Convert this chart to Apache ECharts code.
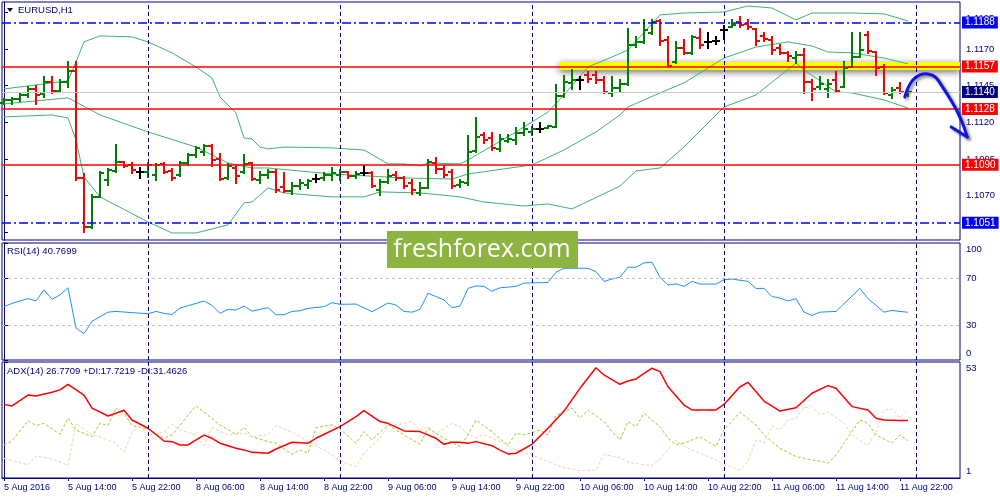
<!DOCTYPE html>
<html><head><meta charset="utf-8">
<script src="https://cdn.jsdelivr.net/npm/echarts@6/dist/echarts.min.js"></script>
<style>html,body{margin:0;padding:0;background:#fff}#c{width:1000px;height:500px}</style>
</head><body><div id="c"></div><script>
// ---------- DATA ----------
const tickIndex = [0,8,16,24,32,40,48,56,64,72,80,88,96,104,112];
const tickLabels = ["5 Aug 2016","5 Aug 14:00","5 Aug 22:00","8 Aug 06:00","8 Aug 14:00","8 Aug 22:00","9 Aug 06:00","9 Aug 14:00","9 Aug 22:00","10 Aug 06:00","10 Aug 14:00","10 Aug 22:00","11 Aug 06:00","11 Aug 14:00","11 Aug 22:00"];
const daySeparators = [18,42,66,90,114];
const priceTicks = [1.1045,1.1070,1.1095,1.1120,1.1145,1.1170,1.1195];

const opens = [1.11332,1.11352,1.11359,1.11386,1.11427,1.11393,1.11475,1.11413,1.11475,1.11550,
1.10820,1.10486,1.10691,1.10806,1.10868,1.10929,1.10909,1.10861,1.10861,1.10841,
1.10916,1.10868,1.10841,1.10922,1.10977,1.10998,1.11038,1.10950,1.10820,1.10888,
1.10861,1.10922,1.10806,1.10841,1.10861,1.10759,1.10731,1.10765,1.10772,1.10813,
1.10820,1.10841,1.10841,1.10861,1.10834,1.10854,1.10854,1.10738,1.10793,1.10841,
1.10820,1.10786,1.10718,1.10752,1.10922,1.10882,1.10861,1.10772,1.10786,1.11004,
1.11113,1.11093,1.11018,1.11072,1.11079,1.11127,1.11134,1.11154,1.11161,1.11168,
1.11379,1.11468,1.11488,1.11523,1.11523,1.11488,1.11400,1.11434,1.11461,1.11727,
1.11748,1.11809,1.11891,1.11761,1.11611,1.11707,1.11673,1.11775,1.11748,1.11754,
1.11829,1.11850,1.11884,1.11870,1.11836,1.11789,1.11761,1.11707,1.11673,1.11638,
1.11659,1.11475,1.11441,1.11427,1.11488,1.11441,1.11577,1.11645,1.11795,1.11679,
1.11577,1.11386,1.11434,1.11386];
const highs = [1.11359,1.11366,1.11400,1.11441,1.11447,1.11509,1.11509,1.11488,1.11611,1.11611,
1.10847,1.10704,1.10861,1.10882,1.11045,1.10929,1.10922,1.10888,1.10922,1.10916,
1.10922,1.10882,1.10929,1.10984,1.11031,1.11045,1.11045,1.10984,1.10916,1.10902,
1.10977,1.10922,1.10861,1.10875,1.10875,1.10854,1.10786,1.10806,1.10806,1.10841,
1.10854,1.10888,1.10875,1.10861,1.10861,1.10902,1.10861,1.10806,1.10875,1.10861,
1.10827,1.10806,1.10786,1.10943,1.10956,1.10902,1.10875,1.10806,1.11106,1.11229,
1.11127,1.11127,1.11113,1.11113,1.11161,1.11195,1.11168,1.11195,1.11175,1.11454,
1.11516,1.11557,1.11509,1.11543,1.11543,1.11509,1.11509,1.11488,1.11836,1.11782,
1.11898,1.11898,1.11898,1.11782,1.11748,1.11761,1.11789,1.11836,1.11809,1.11782,
1.11857,1.11898,1.11918,1.11898,1.11836,1.11809,1.11782,1.11727,1.11679,1.11679,
1.11700,1.11488,1.11509,1.11488,1.11543,1.11611,1.11809,1.11809,1.11816,1.11679,
1.11591,1.11434,1.11468,1.11413];
const lows = [1.11325,1.11325,1.11345,1.11372,1.11325,1.11372,1.11400,1.11407,1.11441,1.10806,
1.10452,1.10479,1.10691,1.10772,1.10861,1.10895,1.10854,1.10820,1.10827,1.10806,
1.10854,1.10806,1.10834,1.10909,1.10963,1.10977,1.10902,1.10806,1.10813,1.10786,
1.10854,1.10806,1.10786,1.10820,1.10725,1.10725,1.10711,1.10745,1.10752,1.10793,
1.10806,1.10806,1.10806,1.10820,1.10820,1.10841,1.10759,1.10704,1.10786,1.10806,
1.10752,1.10711,1.10704,1.10752,1.10854,1.10827,1.10752,1.10759,1.10772,1.10998,
1.11059,1.11011,1.11004,1.11066,1.11052,1.11113,1.11113,1.11134,1.11161,1.11168,
1.11372,1.11427,1.11427,1.11475,1.11468,1.11400,1.11379,1.11407,1.11454,1.11713,
1.11741,1.11802,1.11727,1.11584,1.11604,1.11666,1.11666,1.11707,1.11707,1.11734,
1.11768,1.11850,1.11850,1.11836,1.11727,1.11754,1.11666,1.11666,1.11618,1.11604,
1.11400,1.11352,1.11427,1.11372,1.11407,1.11441,1.11577,1.11645,1.11673,1.11523,
1.11393,1.11366,1.11400,1.11379];
const closes = [1.11352,1.11359,1.11386,1.11427,1.11386,1.11475,1.11413,1.11475,1.11550,1.10820,
1.10486,1.10691,1.10854,1.10875,1.10929,1.10902,1.10875,1.10861,1.10909,1.10909,
1.10861,1.10820,1.10922,1.10977,1.11025,1.11038,1.10943,1.10813,1.10902,1.10834,
1.10916,1.10813,1.10841,1.10861,1.10738,1.10731,1.10765,1.10786,1.10800,1.10813,
1.10841,1.10854,1.10861,1.10834,1.10847,1.10854,1.10765,1.10793,1.10834,1.10820,
1.10765,1.10738,1.10752,1.10929,1.10882,1.10841,1.10765,1.10793,1.10998,1.11100,
1.11079,1.11025,1.11086,1.11086,1.11127,1.11154,1.11154,1.11154,1.11175,1.11379,
1.11475,1.11488,1.11488,1.11495,1.11488,1.11407,1.11434,1.11461,1.11727,1.11748,
1.11829,1.11884,1.11754,1.11584,1.11707,1.11673,1.11782,1.11727,1.11748,1.11754,
1.11829,1.11864,1.11864,1.11850,1.11754,1.11768,1.11693,1.11673,1.11652,1.11659,
1.11475,1.11427,1.11461,1.11461,1.11413,1.11570,1.11645,1.11693,1.11686,1.11570,
1.11400,1.11420,1.11407,1.11407];

// Bollinger bands: [bar index, value] read at the bends of each line
const bbUpper = [[0,1.11427],[8,1.11482],[9,1.11611],[10,1.11748],[12,1.11789],[16,1.11782],[18,1.11748],[21,1.11673],[24,1.11577],[26,1.11502],[27,1.11372],[29,1.11263],[30,1.11093],[31,1.11086],[32,1.11031],[33,1.11018],[35,1.11031],[41,1.11025],[45,1.11011],[48,1.10916],[50,1.10916],[52,1.10902],[53,1.10922],[57,1.10916],[58,1.10943],[64,1.11134],[68,1.11270],[70,1.11386],[73,1.11577],[76,1.11645],[78,1.11693],[82,1.11932],[85,1.11945],[90,1.11952],[93,1.11993],[96,1.11979],[99,1.11898],[101,1.11945],[103,1.11945],[106,1.11945],[110,1.11939],[113,1.11891]];
const bbMiddle = [[0,1.11325],[8,1.11366],[9,1.11338],[12,1.11250],[18,1.11134],[24,1.11031],[28,1.10922],[31,1.10888],[33,1.10888],[41,1.10847],[50,1.10820],[56,1.10813],[58,1.10847],[66,1.10909],[70,1.11011],[74,1.11134],[77,1.11250],[78,1.11304],[82,1.11400],[85,1.11468],[90,1.11638],[94,1.11713],[98,1.11748],[101,1.11720],[103,1.11679],[106,1.11673],[110,1.11638],[113,1.11598]];
const bbLower = [[0,1.11236],[6,1.11250],[8,1.11229],[9,1.11079],[10,1.10827],[12,1.10691],[18,1.10520],[21,1.10445],[24,1.10445],[28,1.10500],[30,1.10650],[31,1.10656],[33,1.10752],[35,1.10718],[41,1.10691],[45,1.10691],[47,1.10725],[52,1.10718],[57,1.10691],[60,1.10656],[65,1.10629],[68,1.10643],[71,1.10609],[77,1.10765],[79,1.10868],[82,1.10888],[85,1.11031],[90,1.11304],[94,1.11386],[99,1.11604],[100,1.11557],[104,1.11407],[106,1.11400],[110,1.11352],[113,1.11297]];

const rsi = [[0,45.6],[1,48.4],[3,52.5],[4,50.5],[5,60],[6,51.9],[7,55.6],[8,61.7],[9,27.4],[10,22.5],[11,33.1],[13,40.9],[14,41.5],[18,39.5],[19,41.5],[20,39.8],[21,38.9],[22,44.4],[25,50.4],[26,46.7],[27,39.8],[28,43.3],[29,42.7],[30,46.1],[31,41.8],[33,44.7],[34,38.7],[35,38.7],[36,41.5],[37,42.1],[38,44.1],[40,45.6],[41,49],[42,47.6],[44,47.8],[46,41.3],[48,48.7],[49,47],[50,41.5],[51,40.9],[52,43.3],[53,57.1],[55,51.3],[56,44.7],[57,46.1],[58,61.2],[59,63.4],[60,62.9],[61,58.8],[62,61.7],[64,62.9],[65,65.7],[68,66.3],[69,75],[70,78.4],[73,78.4],[74,75.5],[75,67.2],[76,69.2],[77,70.7],[78,79.3],[79,79.3],[80,83],[81,83.6],[82,70.7],[83,64],[84,65.1],[85,62.9],[86,67.2],[87,64.9],[89,64.9],[90,68.6],[91,69.2],[93,67.2],[94,61.2],[95,61.2],[96,54.2],[97,53],[98,50.4],[99,52.5],[100,40.9],[101,38.1],[102,40.9],[104,41.5],[107,61.2],[108,52.5],[110,40.9],[111,42.4],[112,41.5],[113,40.8]];
const rsiLevels = [30, 70];

const adx = [[0,34.0],[1,33.3],[3,38.2],[4,37.8],[6,39.4],[7,40.5],[8,43.0],[10,38.2],[11,32.3],[13,28.8],[14,30.0],[15,31.4],[16,27.0],[18,23.3],[20,17.6],[21,17.3],[22,15.8],[23,15.8],[25,20.2],[26,18.8],[27,16.6],[29,14.3],[30,13.6],[31,12.5],[33,12.1],[34,14.0],[36,17.0],[38,16.6],[39,18.8],[42,24.0],[44,28.5],[45,31.2],[47,26.3],[48,25.5],[50,22.1],[52,21.8],[54,18.8],[55,16.1],[56,17.0],[57,17.0],[58,16.6],[59,17.3],[61,15.5],[62,13.5],[63,11.8],[64,12.1],[66,16.1],[68,23.3],[70,31.0],[72,41.2],[74,50.4],[75,47.2],[77,43.0],[78,44.5],[79,45.4],[81,50.2],[82,48.7],[83,41.9],[85,33.7],[86,31.5],[89,31.5],[90,34.0],[92,41.9],[93,43.9],[95,35.5],[97,31.0],[99,32.5],[101,39.0],[103,42.4],[104,41.2],[106,33.0],[108,31.5],[109,27.8],[110,27.0],[112,26.8],[113,26.8]];
const plusDI = [[0,15.8],[1,17.6],[3,26.7],[4,24.5],[5,25.5],[7,20.6],[8,27.8],[9,22.5],[11,19.5],[12,25.5],[13,24.5],[14,32.3],[15,30.0],[16,24.5],[18,23.0],[20,18.8],[21,20.3],[24,33.4],[27,24.8],[29,20.6],[30,23.6],[31,19.5],[33,17.3],[34,16.6],[36,11.6],[37,13.6],[38,12.1],[39,23.6],[41,24.8],[42,23.0],[44,16.6],[45,21.8],[46,18.1],[48,24.8],[50,20.3],[52,16.1],[53,23.3],[55,18.8],[57,15.1],[58,20.3],[59,27.0],[61,21.8],[62,18.5],[63,15.8],[64,21.1],[65,20.3],[67,22.5],[68,20.3],[69,29.0],[71,32.3],[72,27.8],[73,31.5],[75,26.3],[76,21.8],[77,18.1],[78,26.3],[79,24.0],[80,30.0],[82,24.0],[83,18.8],[84,16.1],[85,16.6],[87,19.5],[89,15.1],[90,22.5],[92,30.5],[94,24.8],[95,20.3],[97,14.3],[99,10.6],[101,9.1],[102,8.6],[103,7.6],[104,11.3],[105,16.6],[107,27.0],[108,25.5],[109,20.3],[111,16.6],[112,20.3],[113,17.7]];
const minusDI = [[0,9.8],[3,6.9],[4,10.9],[6,9.5],[8,6.6],[9,25.5],[11,20.3],[12,19.5],[14,16.6],[15,12.5],[16,21.5],[17,24.0],[18,20.3],[20,21.5],[21,25.1],[22,22.5],[24,20.3],[25,15.5],[26,23.6],[28,20.3],[30,21.1],[31,19.5],[33,20.3],[34,24.5],[36,21.5],[37,19.5],[38,17.3],[40,13.6],[41,11.3],[42,8.6],[43,7.2],[44,6.1],[45,12.1],[47,18.8],[48,24.0],[50,25.5],[51,26.3],[52,22.5],[53,24.0],[54,21.1],[56,25.5],[57,24.0],[58,20.6],[59,19.1],[60,20.6],[62,17.3],[64,13.6],[66,11.3],[67,9.8],[69,6.9],[70,5.7],[72,4.2],[74,4.6],[75,11.6],[77,10.1],[78,8.1],[80,6.9],[81,6.6],[82,9.5],[84,18.1],[85,15.1],[87,12.1],[89,9.1],[90,6.9],[92,4.6],[93,8.6],[94,18.1],[95,16.6],[96,24.5],[97,22.5],[98,27.0],[99,27.8],[100,32.5],[101,33.0],[102,29.3],[103,30.5],[105,25.5],[106,20.3],[108,15.5],[109,21.5],[110,31.5],[111,31.9],[112,28.0],[113,31.5]];

// horizontal levels
const levelValues = [1.11880, 1.11580, 1.11407, 1.11290, 1.10910, 1.10514];
const levelLabels = ['1.1188', '1.1157', '1.1140', '1.1128', '1.1090', '1.1051'];
const levelKinds  = ['blue', 'red', 'bid', 'red', 'red', 'blue'];
const zoneRange = [1.11557, 1.11611];   // yellow resistance zone
const zoneStart = 69.4;
// hand-drawn forecast arrow (bar index, price)
const arrowPath = [[112.6,1.11372],[113.0,1.11434],[113.6,1.11488],[114.5,1.11523],[115.5,1.11529],[116.4,1.11509],[117.4,1.11434],[118.5,1.11338],[119.25,1.11263],[119.9,1.11181],[120.4,1.11100]];
const arrowBarb = [[118.4,1.11168],[120.4,1.11100]];

const titleMain = 'EURUSD,H1';
const titleRsi = 'RSI(14) 40.7699';
const titleAdx = 'ADX(14) 26.7709 +DI:17.7219 -DI:31.4626';

// ---------- CHART ----------
const FONT = '"Liberation Sans", Arial, sans-serif';
const NAVY = '#000080';
const X_MIN = -0.25, X_MAX = 119.5;
const chart = echarts.init(document.getElementById('c'), null, {renderer: 'canvas'});

function xAxisCfg(gi, show) {
  return {
    type: 'value', gridIndex: gi, min: X_MIN, max: X_MAX,
    axisLine: {show: show, lineStyle: {color: NAVY}},
    axisTick: {show: show, customValues: tickIndex, length: 3, lineStyle: {color: NAVY}},
    axisLabel: {show: show, customValues: tickIndex,
      formatter: v => { const i = tickIndex.indexOf(Math.round(v)); return i >= 0 ? tickLabels[i] : ''; },
      align: 'left', color: NAVY, fontSize: 9, fontFamily: FONT, margin: 5, hideOverlap: false},
    splitLine: {show: false}
  };
}
function yAxisCfg(gi, min, max, ticks, fmt) {
  return {
    type: 'value', gridIndex: gi, position: 'right', min: min, max: max,
    axisLine: {show: true, lineStyle: {color: NAVY}},
    axisTick: {show: true, customValues: ticks, length: 4, lineStyle: {color: NAVY}},
    axisLabel: {customValues: ticks, formatter: fmt, color: NAVY, fontSize: 9.5, fontFamily: FONT, margin: 6, lineHeight: 13,
      verticalAlignMinLabel: 'bottom', verticalAlignMaxLabel: 'top', showMinLabel: true, showMaxLabel: true},
    splitLine: {show: false}
  };
}
const dayLineStyle = {color: NAVY, width: 1, type: [4, 3]};
function dayLines() {
  return daySeparators.map(x => ({xAxis: x, lineStyle: dayLineStyle, label: {show: false}}));
}

const levelStyle = {
  blue: {line: {color: '#0000ff', width: 1.5, type: [9, 3, 2, 3]}, bg: '#0000ff'},
  red:  {line: {color: '#ff0000', width: 1.5, type: 'solid'}, bg: '#ff0000'},
  bid:  {line: {color: '#c8c8c8', width: 1, type: 'solid'}, bg: '#000080'}
};
const levelLines = levelValues.map((v, i) => {
  const s = levelStyle[levelKinds[i]];
  return {yAxis: v, lineStyle: s.line,
    label: {show: true, position: 'end', distance: 2, formatter: levelLabels[i], color: '#fff',
      backgroundColor: s.bg, padding: [1, 3, 1, 3], fontSize: 10, fontFamily: FONT, lineHeight: 10}};
});

function renderOHLC(params, api) {
  const k = api.value(0), o = api.value(1), h = api.value(2), l = api.value(3), c = api.value(4);
  const ph = api.coord([k, h]), pl = api.coord([k, l]), po = api.coord([k, o]), pc = api.coord([k, c]);
  const x = Math.round(ph[0]);
  const col = c > o ? '#008000' : (c < o ? '#ff0000' : '#000000');
  const st = {stroke: col, lineWidth: 2};
  const yo = Math.round(po[1]), yc = Math.round(pc[1]);
  return {type: 'group', children: [
    {type: 'line', shape: {x1: x, y1: Math.round(ph[1]) - 1, x2: x, y2: Math.round(pl[1]) + 1}, style: st},
    {type: 'line', shape: {x1: x - 4, y1: yo, x2: x, y2: yo}, style: st},
    {type: 'line', shape: {x1: x, y1: yc, x2: x + 4, y2: yc}, style: st}
  ]};
}
const ohlcData = opens.map((o, i) => [i, o, highs[i], lows[i], closes[i]]);
const closeLine = closes.map((c, i) => [i, c]);

const bbStyle = {color: '#3cb371', width: 1};
function bbSeries(name, data) {
  return {type: 'line', name: name, xAxisIndex: 0, yAxisIndex: 0, data: data, symbol: 'none',
    lineStyle: bbStyle, z: 2, silent: true};
}

const option = {
  animation: false,
  backgroundColor: '#ffffff',
  grid: [
    {left: 2, top: 2, width: 958, height: 238, show: true, borderColor: NAVY, borderWidth: 1, backgroundColor: 'transparent'},
    {left: 2, top: 243, width: 958, height: 117, show: true, borderColor: NAVY, borderWidth: 1, backgroundColor: 'transparent'},
    {left: 2, top: 362, width: 958, height: 116, show: true, borderColor: NAVY, borderWidth: 1, backgroundColor: 'transparent'}
  ],
  xAxis: [xAxisCfg(0, false), xAxisCfg(1, false), xAxisCfg(2, true)],
  yAxis: [
    yAxisCfg(0, 1.10397, 1.12020, priceTicks, v => v.toFixed(4)),
    yAxisCfg(1, 0, 100, [0, 30, 70, 100], v => String(Math.round(v))),
    yAxisCfg(2, 1, 53, [1, 53], v => String(Math.round(v)))
  ],
  series: [
    {type: 'line', name: 'grid-main', xAxisIndex: 0, yAxisIndex: 0, data: [], z: 1, silent: true,
      markLine: {silent: true, symbol: 'none', animation: false, precision: 6, data: dayLines()},
      markArea: {silent: true, data: [[{xAxis: zoneStart, yAxis: zoneRange[0]}, {xAxis: X_MAX, yAxis: zoneRange[1]}]],
        itemStyle: {color: '#ffff00', shadowBlur: 7, shadowColor: 'rgba(0,0,0,0.6)', shadowOffsetY: 2}}},
    bbSeries('upper', bbUpper), bbSeries('middle', bbMiddle), bbSeries('lower', bbLower),
    {type: 'custom', name: 'EURUSD', xAxisIndex: 0, yAxisIndex: 0, data: ohlcData, renderItem: renderOHLC,
      encode: {x: 0, y: [1, 2, 3, 4]}, z: 3, silent: true},
    {type: 'line', name: 'levels', xAxisIndex: 0, yAxisIndex: 0, data: closeLine, symbol: 'none', z: 4, silent: true,
      lineStyle: {opacity: 0, width: 0},
      markLine: {silent: true, symbol: 'none', animation: false, precision: 6, data: levelLines}},
    {type: 'line', name: 'RSI', xAxisIndex: 1, yAxisIndex: 1, data: rsi, symbol: 'none', z: 3, silent: true,
      lineStyle: {color: '#1e90ff', width: 1},
      markLine: {silent: true, symbol: 'none', animation: false,
        data: rsiLevels.map(v => ({yAxis: v, lineStyle: {color: '#c0c0c0', width: 1, type: [3, 3]}, label: {show: false}})).concat(dayLines())}},
    {type: 'line', name: 'ADX', xAxisIndex: 2, yAxisIndex: 2, data: adx, symbol: 'none', z: 4, silent: true,
      lineStyle: {color: '#ff0000', width: 1.5},
      markLine: {silent: true, symbol: 'none', animation: false, data: dayLines()}},
    {type: 'line', name: '+DI', xAxisIndex: 2, yAxisIndex: 2, data: plusDI, symbol: 'none', z: 3, silent: true,
      lineStyle: {color: '#9acd32', width: 1, type: [3, 2]}},
    {type: 'line', name: '-DI', xAxisIndex: 2, yAxisIndex: 2, data: minusDI, symbol: 'none', z: 3, silent: true,
      lineStyle: {color: '#f2d2a6', width: 1, type: [3, 2]}}
  ],
  graphic: {elements: [
    {id: 'tri', type: 'polygon', shape: {points: [[7, 8], [13, 8], [10, 12]]}, style: {fill: '#000040'}, z: 50},
    {id: 't0', type: 'text', x: 18, y: 10, style: {text: titleMain, fill: NAVY, font: '9.5px ' + FONT, textVerticalAlign: 'middle'}, z: 50},
    {id: 't1', type: 'text', x: 7, y: 251, style: {text: titleRsi, fill: NAVY, font: '9.5px ' + FONT, textVerticalAlign: 'middle'}, z: 50},
    {id: 't2', type: 'text', x: 7, y: 371, style: {text: titleAdx, fill: NAVY, font: '9.5px ' + FONT, textVerticalAlign: 'middle'}, z: 50},
    {id: 'wmbox', type: 'rect', shape: {x: 387, y: 231, width: 191, height: 37}, style: {fill: '#8db340'}, z: 60},
    {id: 'wmtxt', type: 'text', x: 482, y: 250, style: {text: 'freshforex.com', fill: '#ffffff', font: '25px "Open Sans", "Noto Sans", sans-serif',
      textAlign: 'center', textVerticalAlign: 'middle'}, z: 61}
  ]}
};
chart.setOption(option);

// forecast arrow, placed through the chart's own scales (not clipped to the grid)
const toPx = p => chart.convertToPixel({xAxisIndex: 0, yAxisIndex: 0}, p);
const arrowStyle = {stroke: '#1414dc', lineWidth: 3, fill: null, lineCap: 'round', lineJoin: 'round',
  shadowColor: 'rgba(0,0,0,0.45)', shadowBlur: 3, shadowOffsetX: 2, shadowOffsetY: 2};
chart.setOption({graphic: {elements: [
  {id: 'arrow', type: 'polyline', shape: {points: arrowPath.map(toPx), smooth: 0.35}, style: arrowStyle, z: 55},
  {id: 'barb', type: 'polyline', shape: {points: arrowBarb.map(toPx)}, style: arrowStyle, z: 55}
]}});
</script></body></html>
